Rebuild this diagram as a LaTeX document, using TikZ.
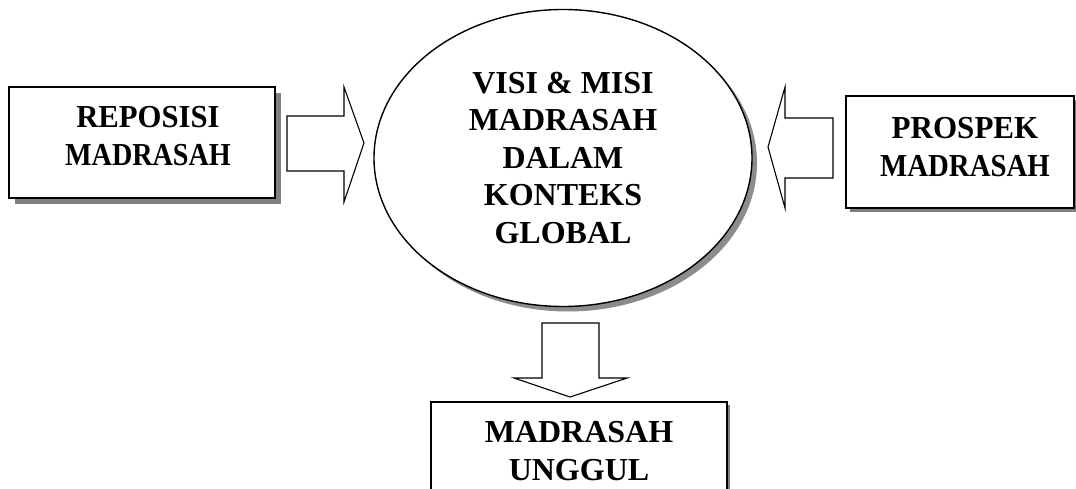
\documentclass[tikz,border=0pt]{standalone}
\usepackage{fontspec}
\setmainfont{Liberation Serif}
\usetikzlibrary{shapes.geometric,shadows}
\begin{document}
\begin{tikzpicture}[x=1pt,y=-1pt,
  txt/.style={font=\fontsize{32}{37.5}\selectfont\bfseries, align=center, inner sep=0pt},
  sidetxt/.style={txt},
  boxshape/.style={draw=black, line width=1.4pt, fill=white, rectangle, inner sep=0pt},
  blockarrow/.style={draw=black, line width=1.1pt, fill=white, line join=miter}]
\useasboundingbox (0,0) rectangle (1076,489);
\clip (0,0) rectangle (1076,489);
% left box
\node[boxshape, minimum width=266pt, minimum height=111pt,
  drop shadow={shadow xshift=6pt, shadow yshift=-6pt, fill=black!50, opacity=1}] (rep) at (142,142.5) {};
\node[sidetxt] (repT) at (148,136) {\scalebox{0.96}[1]{REPOSISI}\\\scalebox{0.88}[1]{MADRASAH}};
% right box
\node[boxshape, minimum width=228pt, minimum height=112pt,
  drop shadow={shadow xshift=4pt, shadow yshift=-4pt, fill=black!50, opacity=1}] (pro) at (960,152) {};
\node[sidetxt] (proT) at (965,147) {\scalebox{0.97}[1]{PROSPEK}\\\scalebox{0.9}[1]{MADRASAH}};
% ellipse
\node[ellipse, draw=black, line width=1.4pt, fill=white, minimum width=378pt, minimum height=297pt,
  drop shadow={shadow xshift=5pt, shadow yshift=-5pt, fill=black!45, opacity=1}, txt] (vm) at (563,158)
  {VISI \& MISI\\MADRASAH\\DALAM\\KONTEKS\\GLOBAL};
% bottom box
\node[boxshape, minimum width=296pt, minimum height=130pt,
  drop shadow={shadow xshift=3pt, shadow yshift=-3pt, fill=black!50, opacity=1}] (ung) at (579,467) {};
\node[txt] (ungT) at (579,451) {MADRASAH\\UNGGUL};
% block arrows
\draw[blockarrow] (287,116) -- (344,116) -- (344,87) -- (364,143) -- (344,202) -- (344,171) -- (287,171) -- cycle;
\draw[blockarrow] (833,118) -- (785,118) -- (785,87) -- (768,147) -- (785,208) -- (785,178) -- (833,178) -- cycle;
\draw[blockarrow] (542,323) -- (599,323) -- (599,378) -- (627,378) -- (570,397) -- (514,378) -- (542,378) -- cycle;
\end{tikzpicture}
\end{document}
